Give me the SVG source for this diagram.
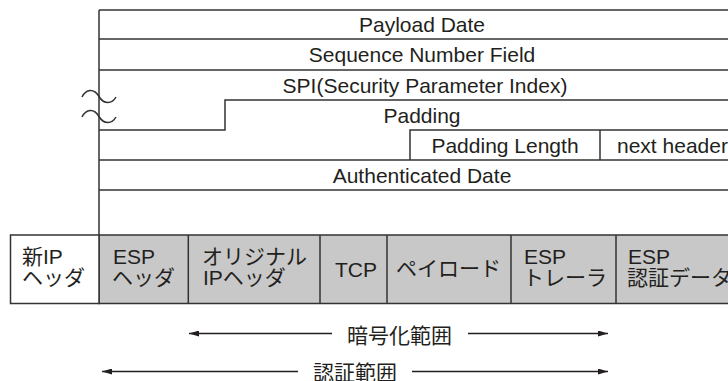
<svg xmlns="http://www.w3.org/2000/svg" width="728" height="381" viewBox="0 0 728 381">
<style>
.ln{stroke:#333;stroke-width:1.5;fill:none}
.t{font-family:"Liberation Sans","Noto Sans CJK JP",Arial,sans-serif;font-size:21px;fill:#231f20}
.c{text-anchor:middle}
.cell{stroke:#333;stroke-width:1.5;fill:#c8c8c8}
.white{fill:#ffffff}
.arr{stroke:#231f20;stroke-width:1.3;fill:none}
</style>
<defs>
<marker id="ah" viewBox="0 0 10 6" refX="10" refY="3" markerWidth="10" markerHeight="6" markerUnits="userSpaceOnUse" orient="auto">
<path d="M0,0 L10,3 L0,6 z" fill="#231f20"/>
</marker>
</defs>
<rect width="728" height="381" fill="#ffffff"/>

<g id="fields">
<line class="ln" x1="99" y1="10" x2="99" y2="235"/>
<line class="ln" x1="99" y1="10" x2="728" y2="10"/>
<line class="ln" x1="99" y1="39" x2="728" y2="39"/>
<line class="ln" x1="99" y1="70" x2="728" y2="70"/>
<path class="ln" d="M99,130 H225 V100 H728"/>
<path class="ln" d="M410,160 V130 H728"/>
<line class="ln" x1="600" y1="130" x2="600" y2="160"/>
<line class="ln" x1="99" y1="160" x2="728" y2="160"/>
<line class="ln" x1="99" y1="190" x2="728" y2="190"/>
<path class="ln" d="M82,97 C86,89 94,88 99,96.5 C104,105 112,104 116,97"/>
<path class="ln" d="M82,117 C86,109 94,108 99,116.5 C104,125 112,124 116,117"/>
<text class="t c" x="422" y="32">Payload Date</text>
<text class="t c" x="422" y="62">Sequence Number Field</text>
<text class="t c" x="425" y="92.5">SPI(Security Parameter Index)</text>
<text class="t c" x="422" y="122.5">Padding</text>
<text class="t c" x="505" y="152.5">Padding Length</text>
<text class="t" x="617" y="152.5">next header</text>
<text class="t c" x="422" y="182.5">Authenticated Date</text>
</g>

<g id="packet">
<rect class="cell" x="99" y="235" width="640" height="68.5"/>
<rect class="cell white" x="10.5" y="235" width="88.5" height="68.5"/>
<line class="ln" x1="188.3" y1="235" x2="188.3" y2="303.5"/>
<line class="ln" x1="320" y1="235" x2="320" y2="303.5"/>
<line class="ln" x1="387" y1="235" x2="387" y2="303.5"/>
<line class="ln" x1="511" y1="235" x2="511" y2="303.5"/>
<line class="ln" x1="616" y1="235" x2="616" y2="303.5"/>
</g>
<g id="cell-newip"><text class="t" x="22" y="263.5">新IP</text><text class="t" x="22" y="285">ヘッダ</text></g>
<g id="cell-esphdr"><text class="t" x="113" y="263.5">ESP</text><text class="t" x="112" y="285">ヘッダ</text></g>
<g id="cell-origip"><text class="t" x="202" y="263.5">オリジナル</text><text class="t" x="203" y="285">IPヘッダ</text></g>
<g id="cell-tcp"><text class="t" x="335" y="277">TCP</text></g>
<g id="cell-payload"><text class="t" x="396" y="276">ペイロード</text></g>
<g id="cell-esptrl"><text class="t" x="524" y="263.5">ESP</text><text class="t" x="523" y="285">トレーラ</text></g>
<g id="cell-espauth"><text class="t" x="628" y="263.5">ESP</text><text class="t" x="627" y="285">認証データ</text></g>

<g id="connectors">
<line class="arr" x1="332" y1="333.5" x2="189" y2="333.5" marker-end="url(#ah)"/>
<line class="arr" x1="468" y1="333.5" x2="608" y2="333.5" marker-end="url(#ah)"/>
<line class="arr" x1="298" y1="371.5" x2="102" y2="371.5" marker-end="url(#ah)"/>
<line class="arr" x1="412" y1="371.5" x2="608" y2="371.5" marker-end="url(#ah)"/>
</g>
<g id="label-encrypt"><text class="t" x="347" y="343">暗号化範囲</text></g>
<g id="label-auth"><text class="t" x="313" y="380">認証範囲</text></g>
</svg>
